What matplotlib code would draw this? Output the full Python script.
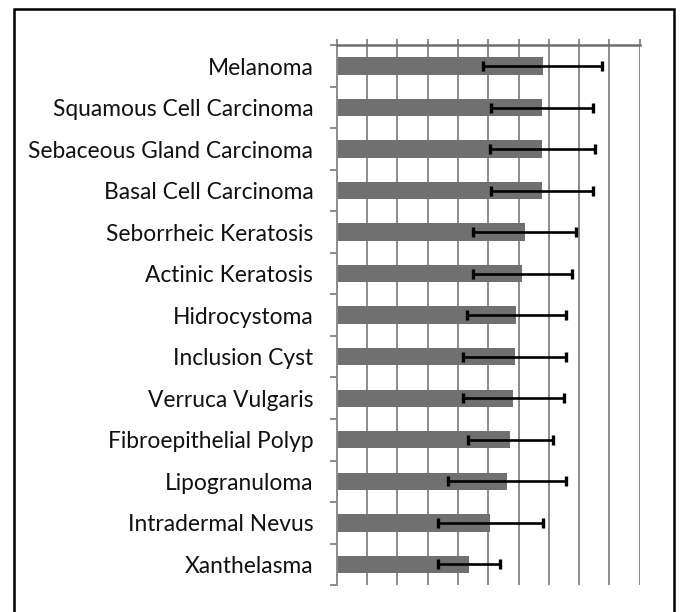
import matplotlib.pyplot as plt
import numpy as np
from matplotlib.patches import Rectangle

# categories top -> bottom
lesions = [
    "Melanoma",
    "Squamous Cell Carcinoma",
    "Sebaceous Gland Carcinoma",
    "Basal Cell Carcinoma",
    "Seborrheic Keratosis",
    "Actinic Keratosis",
    "Hidrocystoma",
    "Inclusion Cyst",
    "Verruca Vulgaris",
    "Fibroepithelial Polyp",
    "Lipogranuloma",
    "Intradermal Nevus",
    "Xanthelasma",
]
mean_score = [6.79, 6.78, 6.78, 6.78, 6.20, 6.12, 5.93, 5.88, 5.82, 5.73, 5.62, 5.06, 4.36]
sd_score = [1.95, 1.68, 1.73, 1.68, 1.70, 1.63, 1.64, 1.70, 1.67, 1.40, 1.96, 1.73, 1.02]

GRID = "#8c8c8c"

fig = plt.figure(figsize=(6.82, 6.12), dpi=100)
ax = fig.add_axes([0.494, 0.044, 0.444, 0.882])

y = np.arange(len(lesions))
ax.barh(y, mean_score, height=0.42, color="#707070", zorder=2)
ax.errorbar(mean_score, y, xerr=sd_score, fmt="none", ecolor="black",
            elinewidth=1.9, capsize=3.8, capthick=2.4, zorder=3)

ax.set_xlim(0, 10)
ax.set_ylim(len(lesions) - 0.5, -0.5)
ax.set_xticks(np.arange(0, 11, 1))
ax.xaxis.tick_top()
ax.tick_params(axis="x", which="major", length=4, width=1.4, color=GRID,
               labeltop=False, labelbottom=False)
ax.grid(axis="x", color=GRID, lw=1.4, zorder=1)

ax.set_yticks(y)
ax.set_yticklabels(lesions, fontsize=16.4, color="#111111", family="Lato")
ax.set_yticks(np.arange(-0.5, len(lesions)), minor=True)
ax.tick_params(axis="y", which="major", length=0, pad=17)
ax.tick_params(axis="y", which="minor", length=5, width=1.4, color=GRID)

for side in ["bottom", "right"]:
    ax.spines[side].set_visible(False)
ax.spines["top"].set_color("#6e6e6e")
ax.spines["top"].set_linewidth(1.8)
ax.spines["left"].set_color(GRID)
ax.spines["left"].set_linewidth(1.4)

# outer frame of the figure panel
fig.patches.append(Rectangle((14 / 682, -0.05), 660 / 682, 1 - 9 / 612 + 0.05,
                             transform=fig.transFigure, fill=False,
                             edgecolor="black", lw=1.8))

plt.savefig("out.png", dpi=100)
